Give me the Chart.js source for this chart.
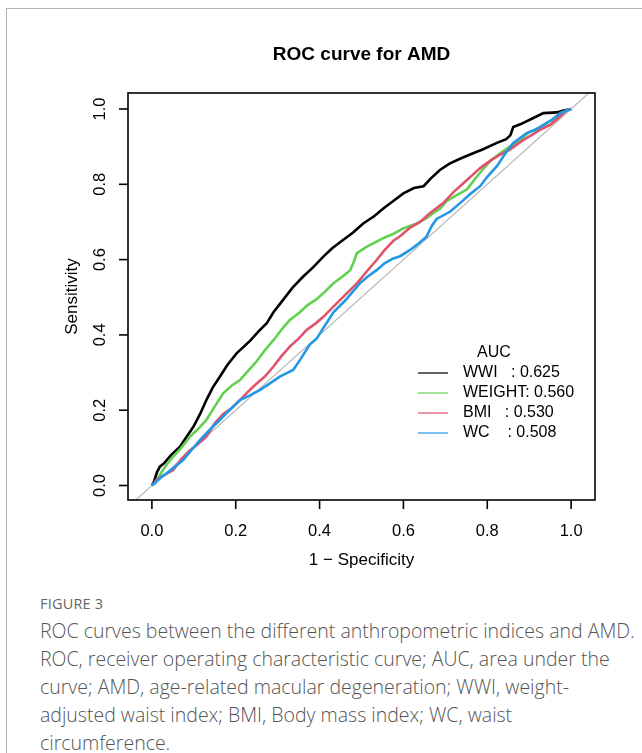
<!DOCTYPE html>
<html>
<head>
<meta charset="utf-8">
<script src="https://cdn.jsdelivr.net/npm/chart.js@4.4.1/dist/chart.umd.min.js"></script>
<style>
  html, body { margin: 0; padding: 0; background: #fff; }
  body { width: 642px; height: 753px; position: relative; overflow: hidden; }
  .frame { position: absolute; left: 6px; top: 8px; right: -10px; bottom: -10px;
           border-left: 1.5px solid #b4b4b4; border-top: 1.5px solid #b4b4b4; }
  #wrap { position: absolute; left: 0; top: 0; width: 642px; height: 590px; }
  .fig { position: absolute; left: 40px; top: 594px; font-family: "Open Sans", sans-serif;
         font-size: 14.5px; color: #666; letter-spacing: 0.2px; }
  .cap { position: absolute; left: 40px; top: 617px; font-family: "Open Sans", sans-serif;
         font-weight: 300; font-size: 19.5px; line-height: 28px; color: #555; white-space: nowrap; }
</style>
</head>
<body>
<div class="frame"></div>
<div id="wrap"><canvas id="rocChart" width="642" height="590"></canvas></div>
<div class="fig">FIGURE 3</div>
<div class="cap">ROC curves between the different anthropometric indices and AMD.<br>ROC, receiver operating characteristic curve; AUC, area under the<br>curve; AMD, age-related macular degeneration; WWI, weight-<br>adjusted waist index; BMI, Body mass index; WC, waist<br>circumference.</div>
<script>
// series names and AUCs (legend)
const seriesNames = ['WWI', 'WEIGHT', 'BMI', 'WC'];
const aucValues = [0.625, 0.560, 0.530, 0.508];
const seriesColors = ['#000000', '#61D04F', '#DF536B', '#2297E6'];

// 1 - specificity / sensitivity
const wwiFpr = [0, 0.005, 0.012, 0.019, 0.03, 0.045, 0.067, 0.08, 0.099, 0.115, 0.13, 0.145, 0.162, 0.18, 0.202, 0.234, 0.255, 0.274, 0.29, 0.313, 0.335, 0.361, 0.385, 0.409, 0.43, 0.456, 0.48, 0.504, 0.53, 0.552, 0.575, 0.6, 0.625, 0.648, 0.665, 0.687, 0.71, 0.735, 0.759, 0.79, 0.823, 0.845, 0.855, 0.862, 0.88, 0.91, 0.934, 0.966, 0.98, 1];
const wwiTpr = [0, 0.01, 0.035, 0.05, 0.06, 0.08, 0.103, 0.125, 0.156, 0.19, 0.227, 0.26, 0.289, 0.32, 0.351, 0.384, 0.41, 0.431, 0.46, 0.493, 0.525, 0.555, 0.58, 0.608, 0.63, 0.652, 0.672, 0.696, 0.715, 0.736, 0.755, 0.776, 0.79, 0.795, 0.815, 0.838, 0.855, 0.868, 0.879, 0.893, 0.91, 0.92, 0.93, 0.952, 0.96, 0.976, 0.989, 0.991, 0.995, 1];

const weightFpr = [0, 0.007, 0.02, 0.035, 0.051, 0.07, 0.091, 0.11, 0.13, 0.15, 0.17, 0.19, 0.21, 0.23, 0.25, 0.27, 0.29, 0.31, 0.329, 0.353, 0.37, 0.393, 0.413, 0.433, 0.455, 0.473, 0.482, 0.489, 0.512, 0.552, 0.575, 0.6, 0.632, 0.655, 0.671, 0.687, 0.703, 0.725, 0.751, 0.775, 0.79, 0.807, 0.83, 0.854, 0.88, 0.902, 0.93, 0.95, 0.965, 0.974, 1];
const weightTpr = [0, 0.006, 0.03, 0.055, 0.077, 0.1, 0.13, 0.15, 0.174, 0.21, 0.245, 0.265, 0.28, 0.305, 0.33, 0.36, 0.386, 0.415, 0.44, 0.46, 0.478, 0.495, 0.515, 0.537, 0.555, 0.572, 0.595, 0.617, 0.634, 0.657, 0.668, 0.683, 0.696, 0.71, 0.723, 0.735, 0.755, 0.77, 0.786, 0.82, 0.84, 0.862, 0.882, 0.9, 0.92, 0.94, 0.952, 0.958, 0.975, 0.989, 1];

const bmiFpr = [0, 0.011, 0.03, 0.051, 0.07, 0.091, 0.11, 0.13, 0.15, 0.17, 0.19, 0.21, 0.23, 0.25, 0.27, 0.29, 0.31, 0.329, 0.35, 0.369, 0.39, 0.409, 0.433, 0.46, 0.489, 0.51, 0.536, 0.555, 0.576, 0.592, 0.616, 0.64, 0.663, 0.695, 0.72, 0.743, 0.765, 0.783, 0.81, 0.831, 0.854, 0.886, 0.905, 0.926, 0.95, 0.966, 0.99, 1];
const bmiTpr = [0, 0.015, 0.028, 0.041, 0.07, 0.094, 0.11, 0.13, 0.165, 0.19, 0.205, 0.227, 0.25, 0.271, 0.29, 0.316, 0.345, 0.369, 0.39, 0.413, 0.43, 0.448, 0.475, 0.505, 0.537, 0.565, 0.599, 0.625, 0.65, 0.662, 0.685, 0.7, 0.723, 0.75, 0.78, 0.803, 0.825, 0.843, 0.865, 0.879, 0.892, 0.918, 0.93, 0.945, 0.958, 0.972, 0.997, 1];

const wcFpr = [0, 0.007, 0.02, 0.035, 0.055, 0.075, 0.095, 0.115, 0.14, 0.162, 0.185, 0.21, 0.235, 0.258, 0.28, 0.305, 0.337, 0.353, 0.377, 0.393, 0.41, 0.433, 0.46, 0.496, 0.515, 0.536, 0.555, 0.576, 0.592, 0.615, 0.632, 0.655, 0.668, 0.679, 0.711, 0.735, 0.76, 0.783, 0.8, 0.823, 0.845, 0.862, 0.894, 0.915, 0.934, 0.955, 0.974, 1];
const wcTpr = [0, 0.006, 0.02, 0.032, 0.05, 0.068, 0.095, 0.121, 0.15, 0.174, 0.2, 0.227, 0.24, 0.254, 0.27, 0.289, 0.307, 0.333, 0.375, 0.39, 0.42, 0.46, 0.49, 0.537, 0.555, 0.572, 0.59, 0.603, 0.609, 0.625, 0.639, 0.661, 0.69, 0.708, 0.727, 0.75, 0.775, 0.795, 0.82, 0.848, 0.885, 0.91, 0.936, 0.945, 0.958, 0.972, 0.989, 1];

const chanceLine = [-0.1, 1.1];
const xTicks = [0, 0.2, 0.4, 0.6, 0.8, 1.0];
const yTicks = [0, 0.2, 0.4, 0.6, 0.8, 1.0];

const FONT = '"Liberation Sans", Arial, sans-serif';

function toPoints(xs, ys) {
    return xs.map((x, i) => ({ x: x, y: ys[i] }));
}

const curves = [[wwiFpr, wwiTpr], [weightFpr, weightTpr], [bmiFpr, bmiTpr], [wcFpr, wcTpr]];

const datasets = curves.map((c, i) => ({
    label: seriesNames[i],
    data: toPoints(c[0], c[1]),
    borderColor: seriesColors[i],
    borderWidth: 2.6,
    showLine: true,
    pointRadius: 0,
    tension: 0,
    order: 3 - i
}));
datasets.push({
    label: 'chance',
    data: chanceLine.map(v => ({ x: v, y: v })),
    borderColor: '#b8b8b8',
    borderWidth: 1.2,
    showLine: true,
    pointRadius: 0,
    order: 10
});

// R-style frame, axes, title and legend
const rDecor = {
    id: 'rDecor',
    afterDraw(chart) {
        const ctx = chart.ctx;
        const a = chart.chartArea;
        const xs = chart.scales.x, ys = chart.scales.y;
        ctx.save();
        ctx.strokeStyle = '#000';
        ctx.lineWidth = 1.6;
        ctx.strokeRect(a.left, a.top, a.right - a.left, a.bottom - a.top);

        ctx.fillStyle = '#000';
        ctx.font = '16.5px ' + FONT;
        ctx.textAlign = 'center';
        ctx.textBaseline = 'middle';
        xTicks.forEach(v => {
            const px = xs.getPixelForValue(v);
            ctx.beginPath();
            ctx.moveTo(px, a.bottom);
            ctx.lineTo(px, a.bottom + 9);
            ctx.stroke();
            ctx.fillText(v.toFixed(1), px, 531);
        });
        yTicks.forEach(v => {
            const py = ys.getPixelForValue(v);
            ctx.beginPath();
            ctx.moveTo(a.left, py);
            ctx.lineTo(a.left - 9, py);
            ctx.stroke();
            ctx.save();
            ctx.translate(100, py);
            ctx.rotate(-Math.PI / 2);
            ctx.fillText(v.toFixed(1), 0, 0);
            ctx.restore();
        });

        // axis titles
        ctx.font = '17px ' + FONT;
        ctx.fillText('1 \u2212 Specificity', (a.left + a.right) / 2, 560);
        ctx.save();
        ctx.translate(72, (a.top + a.bottom) / 2);
        ctx.rotate(-Math.PI / 2);
        ctx.fillText('Sensitivity', 0, 0);
        ctx.restore();

        // title
        ctx.font = 'bold 19px ' + FONT;
        ctx.fillText('ROC curve for AMD', (a.left + a.right) / 2, 55);

        // legend
        ctx.font = '16px ' + FONT;
        ctx.fillText('AUC', 494, 353);
        ctx.textAlign = 'left';
        seriesNames.forEach((name, i) => {
            const y = 373 + i * 20;
            ctx.strokeStyle = seriesColors[i];
            ctx.lineWidth = 1.2;
            ctx.beginPath();
            ctx.moveTo(418, y);
            ctx.lineTo(448, y);
            ctx.stroke();
            ctx.fillText(name.padEnd(6) + ': ' + aucValues[i].toFixed(3), 463, y);
        });
        ctx.restore();
    }
};

new Chart(document.getElementById('rocChart'), {
    type: 'scatter',
    data: { datasets: datasets },
    options: {
        responsive: false,
        animation: false,
        devicePixelRatio: 1,
        layout: { padding: { left: 128, top: 93, right: 47, bottom: 90 } },
        plugins: { legend: { display: false }, tooltip: { enabled: false } },
        scales: {
            x: { type: 'linear', min: -0.057, max: 1.057, display: false },
            y: { type: 'linear', min: -0.0385, max: 1.0425, display: false }
        }
    },
    plugins: [rDecor]
});
</script>
</body>
</html>
